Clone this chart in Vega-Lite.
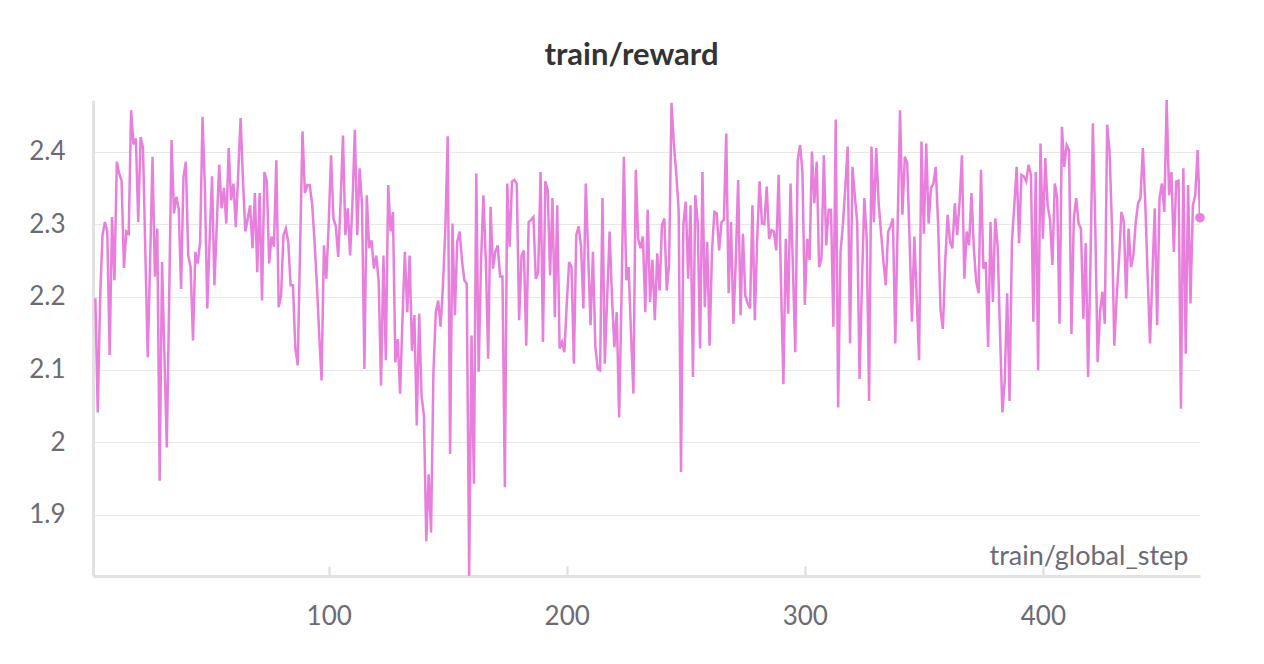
{
  "$schema": "https://vega.github.io/schema/vega-lite/v6.json",
  "width": 1107,
  "height": 476,
  "autosize": {"type": "none"},
  "padding": {"left": 93, "top": 100, "right": 64, "bottom": 88},
  "background": "white",
  "title": {"text": "train/reward", "font": "Lato", "fontSize": 31, "fontWeight": "bold", "color": "#333333", "offset": 28, "dx": -15},
  "data": {"values": [
{"step":2,"reward":2.198},{"step":3,"reward":2.041},{"step":4,"reward":2.2},{"step":5,"reward":2.285},{"step":6,"reward":2.303},{"step":7,"reward":2.29},{"step":8,"reward":2.12},{"step":9,"reward":2.31},{"step":10,"reward":2.223},
{"step":11,"reward":2.386},{"step":12,"reward":2.37},{"step":13,"reward":2.36},{"step":14,"reward":2.24},{"step":15,"reward":2.29},{"step":16,"reward":2.287},{"step":17,"reward":2.457},{"step":18,"reward":2.41},{"step":19,"reward":2.418},{"step":20,"reward":2.303},
{"step":21,"reward":2.42},{"step":22,"reward":2.405},{"step":23,"reward":2.26},{"step":24,"reward":2.117},{"step":25,"reward":2.25},{"step":26,"reward":2.393},{"step":27,"reward":2.228},{"step":28,"reward":2.294},{"step":29,"reward":1.947},{"step":30,"reward":2.248},
{"step":31,"reward":2.12},{"step":32,"reward":1.993},{"step":33,"reward":2.2},{"step":34,"reward":2.416},{"step":35,"reward":2.315},{"step":36,"reward":2.338},{"step":37,"reward":2.322},{"step":38,"reward":2.211},{"step":39,"reward":2.365},{"step":40,"reward":2.386},
{"step":41,"reward":2.257},{"step":42,"reward":2.241},{"step":43,"reward":2.14},{"step":44,"reward":2.262},{"step":45,"reward":2.246},{"step":46,"reward":2.276},{"step":47,"reward":2.448},{"step":48,"reward":2.35},{"step":49,"reward":2.184},{"step":50,"reward":2.28},
{"step":51,"reward":2.366},{"step":52,"reward":2.216},{"step":53,"reward":2.3},{"step":54,"reward":2.382},{"step":55,"reward":2.322},{"step":56,"reward":2.35},{"step":57,"reward":2.301},{"step":58,"reward":2.405},{"step":59,"reward":2.333},{"step":60,"reward":2.356},
{"step":61,"reward":2.296},{"step":62,"reward":2.37},{"step":63,"reward":2.446},{"step":64,"reward":2.36},{"step":65,"reward":2.29},{"step":66,"reward":2.308},{"step":67,"reward":2.326},{"step":68,"reward":2.267},{"step":69,"reward":2.343},{"step":70,"reward":2.234},
{"step":71,"reward":2.343},{"step":72,"reward":2.195},{"step":73,"reward":2.372},{"step":74,"reward":2.359},{"step":75,"reward":2.246},{"step":76,"reward":2.283},{"step":77,"reward":2.269},{"step":78,"reward":2.388},{"step":79,"reward":2.186},{"step":80,"reward":2.202},
{"step":81,"reward":2.285},{"step":82,"reward":2.294},{"step":83,"reward":2.276},{"step":84,"reward":2.216},{"step":85,"reward":2.216},{"step":86,"reward":2.129},{"step":87,"reward":2.106},{"step":88,"reward":2.27},{"step":89,"reward":2.428},{"step":90,"reward":2.343},
{"step":91,"reward":2.354},{"step":92,"reward":2.354},{"step":93,"reward":2.33},{"step":94,"reward":2.28},{"step":95,"reward":2.22},{"step":96,"reward":2.15},{"step":97,"reward":2.085},{"step":98,"reward":2.271},{"step":99,"reward":2.225},{"step":100,"reward":2.3},
{"step":101,"reward":2.395},{"step":102,"reward":2.308},{"step":103,"reward":2.297},{"step":104,"reward":2.255},{"step":105,"reward":2.33},{"step":106,"reward":2.422},{"step":107,"reward":2.285},{"step":108,"reward":2.322},{"step":109,"reward":2.257},{"step":110,"reward":2.33},
{"step":111,"reward":2.43},{"step":112,"reward":2.285},{"step":113,"reward":2.377},{"step":114,"reward":2.326},{"step":115,"reward":2.101},{"step":116,"reward":2.34},{"step":117,"reward":2.267},{"step":118,"reward":2.278},{"step":119,"reward":2.239},{"step":120,"reward":2.257},
{"step":121,"reward":2.221},{"step":122,"reward":2.078},{"step":123,"reward":2.257},{"step":124,"reward":2.113},{"step":125,"reward":2.354},{"step":126,"reward":2.29},{"step":127,"reward":2.317},{"step":128,"reward":2.11},{"step":129,"reward":2.142},{"step":130,"reward":2.067},
{"step":131,"reward":2.17},{"step":132,"reward":2.262},{"step":133,"reward":2.179},{"step":134,"reward":2.257},{"step":135,"reward":2.126},{"step":136,"reward":2.175},{"step":137,"reward":2.023},{"step":138,"reward":2.177},{"step":139,"reward":2.064},{"step":140,"reward":2.037},
{"step":141,"reward":1.864},{"step":142,"reward":1.956},{"step":143,"reward":1.876},{"step":144,"reward":2.097},{"step":145,"reward":2.179},{"step":146,"reward":2.195},{"step":147,"reward":2.159},{"step":148,"reward":2.216},{"step":149,"reward":2.294},{"step":150,"reward":2.421},
{"step":151,"reward":1.984},{"step":152,"reward":2.301},{"step":153,"reward":2.175},{"step":154,"reward":2.276},{"step":155,"reward":2.29},{"step":156,"reward":2.25},{"step":157,"reward":2.223},{"step":158,"reward":2.218},{"step":159,"reward":1.816},{"step":160,"reward":2.147},
{"step":161,"reward":1.943},{"step":162,"reward":2.37},{"step":163,"reward":2.097},{"step":164,"reward":2.25},{"step":165,"reward":2.34},{"step":166,"reward":2.25},{"step":167,"reward":2.115},{"step":168,"reward":2.324},{"step":169,"reward":2.239},{"step":170,"reward":2.262},
{"step":171,"reward":2.271},{"step":172,"reward":2.228},{"step":173,"reward":2.228},{"step":174,"reward":1.938},{"step":175,"reward":2.356},{"step":176,"reward":2.269},{"step":177,"reward":2.359},{"step":178,"reward":2.361},{"step":179,"reward":2.356},{"step":180,"reward":2.168},
{"step":181,"reward":2.257},{"step":182,"reward":2.264},{"step":183,"reward":2.133},{"step":184,"reward":2.303},{"step":185,"reward":2.306},{"step":186,"reward":2.31},{"step":187,"reward":2.225},{"step":188,"reward":2.234},{"step":189,"reward":2.372},{"step":190,"reward":2.138},
{"step":191,"reward":2.359},{"step":192,"reward":2.347},{"step":193,"reward":2.23},{"step":194,"reward":2.336},{"step":195,"reward":2.172},{"step":196,"reward":2.326},{"step":197,"reward":2.129},{"step":198,"reward":2.138},{"step":199,"reward":2.124},{"step":200,"reward":2.19},
{"step":201,"reward":2.248},{"step":202,"reward":2.241},{"step":203,"reward":2.108},{"step":204,"reward":2.285},{"step":205,"reward":2.297},{"step":206,"reward":2.27},{"step":207,"reward":2.184},{"step":208,"reward":2.356},{"step":209,"reward":2.257},{"step":210,"reward":2.161},
{"step":211,"reward":2.262},{"step":212,"reward":2.133},{"step":213,"reward":2.101},{"step":214,"reward":2.099},{"step":215,"reward":2.336},{"step":216,"reward":2.108},{"step":217,"reward":2.2},{"step":218,"reward":2.29},{"step":219,"reward":2.2},{"step":220,"reward":2.131},
{"step":221,"reward":2.179},{"step":222,"reward":2.034},{"step":223,"reward":2.2},{"step":224,"reward":2.393},{"step":225,"reward":2.223},{"step":226,"reward":2.241},{"step":227,"reward":2.15},{"step":228,"reward":2.067},{"step":229,"reward":2.375},{"step":230,"reward":2.28},
{"step":231,"reward":2.267},{"step":232,"reward":2.283},{"step":233,"reward":2.179},{"step":234,"reward":2.32},{"step":235,"reward":2.193},{"step":236,"reward":2.251},{"step":237,"reward":2.168},{"step":238,"reward":2.26},{"step":239,"reward":2.209},{"step":240,"reward":2.299},
{"step":241,"reward":2.308},{"step":242,"reward":2.209},{"step":243,"reward":2.246},{"step":244,"reward":2.467},{"step":245,"reward":2.41},{"step":246,"reward":2.37},{"step":247,"reward":2.32},{"step":248,"reward":1.959},{"step":249,"reward":2.301},{"step":250,"reward":2.331},
{"step":251,"reward":2.225},{"step":252,"reward":2.326},{"step":253,"reward":2.09},{"step":254,"reward":2.34},{"step":255,"reward":2.303},{"step":256,"reward":2.129},{"step":257,"reward":2.372},{"step":258,"reward":2.186},{"step":259,"reward":2.276},{"step":260,"reward":2.133},
{"step":261,"reward":2.262},{"step":262,"reward":2.317},{"step":263,"reward":2.315},{"step":264,"reward":2.264},{"step":265,"reward":2.303},{"step":266,"reward":2.306},{"step":267,"reward":2.425},{"step":268,"reward":2.205},{"step":269,"reward":2.303},{"step":270,"reward":2.163},
{"step":271,"reward":2.25},{"step":272,"reward":2.361},{"step":273,"reward":2.175},{"step":274,"reward":2.287},{"step":275,"reward":2.202},{"step":276,"reward":2.191},{"step":277,"reward":2.184},{"step":278,"reward":2.326},{"step":279,"reward":2.168},{"step":280,"reward":2.28},
{"step":281,"reward":2.359},{"step":282,"reward":2.301},{"step":283,"reward":2.3},{"step":284,"reward":2.352},{"step":285,"reward":2.28},{"step":286,"reward":2.292},{"step":287,"reward":2.29},{"step":288,"reward":2.264},{"step":289,"reward":2.368},{"step":290,"reward":2.22},
{"step":291,"reward":2.08},{"step":292,"reward":2.28},{"step":293,"reward":2.177},{"step":294,"reward":2.356},{"step":295,"reward":2.24},{"step":296,"reward":2.124},{"step":297,"reward":2.388},{"step":298,"reward":2.409},{"step":299,"reward":2.372},{"step":300,"reward":2.189},
{"step":301,"reward":2.28},{"step":302,"reward":2.251},{"step":303,"reward":2.4},{"step":304,"reward":2.329},{"step":305,"reward":2.386},{"step":306,"reward":2.241},{"step":307,"reward":2.253},{"step":308,"reward":2.395},{"step":309,"reward":2.271},{"step":310,"reward":2.32},
{"step":311,"reward":2.32},{"step":312,"reward":2.159},{"step":313,"reward":2.444},{"step":314,"reward":2.048},{"step":315,"reward":2.262},{"step":316,"reward":2.3},{"step":317,"reward":2.35},{"step":318,"reward":2.407},{"step":319,"reward":2.136},{"step":320,"reward":2.379},
{"step":321,"reward":2.34},{"step":322,"reward":2.303},{"step":323,"reward":2.087},{"step":324,"reward":2.22},{"step":325,"reward":2.336},{"step":326,"reward":2.28},{"step":327,"reward":2.057},{"step":328,"reward":2.407},{"step":329,"reward":2.303},{"step":330,"reward":2.405},
{"step":331,"reward":2.33},{"step":332,"reward":2.29},{"step":333,"reward":2.25},{"step":334,"reward":2.216},{"step":335,"reward":2.29},{"step":336,"reward":2.297},{"step":337,"reward":2.308},{"step":338,"reward":2.136},{"step":339,"reward":2.3},{"step":340,"reward":2.457},
{"step":341,"reward":2.313},{"step":342,"reward":2.393},{"step":343,"reward":2.384},{"step":344,"reward":2.28},{"step":345,"reward":2.166},{"step":346,"reward":2.283},{"step":347,"reward":2.2},{"step":348,"reward":2.113},{"step":349,"reward":2.414},{"step":350,"reward":2.287},
{"step":351,"reward":2.411},{"step":352,"reward":2.301},{"step":353,"reward":2.35},{"step":354,"reward":2.356},{"step":355,"reward":2.379},{"step":356,"reward":2.3},{"step":357,"reward":2.182},{"step":358,"reward":2.156},{"step":359,"reward":2.25},{"step":360,"reward":2.313},
{"step":361,"reward":2.276},{"step":362,"reward":2.267},{"step":363,"reward":2.329},{"step":364,"reward":2.285},{"step":365,"reward":2.33},{"step":366,"reward":2.395},{"step":367,"reward":2.225},{"step":368,"reward":2.29},{"step":369,"reward":2.271},{"step":370,"reward":2.343},
{"step":371,"reward":2.267},{"step":372,"reward":2.221},{"step":373,"reward":2.205},{"step":374,"reward":2.375},{"step":375,"reward":2.239},{"step":376,"reward":2.248},{"step":377,"reward":2.131},{"step":378,"reward":2.303},{"step":379,"reward":2.193},{"step":380,"reward":2.308},
{"step":381,"reward":2.27},{"step":382,"reward":2.15},{"step":383,"reward":2.041},{"step":384,"reward":2.087},{"step":385,"reward":2.205},{"step":386,"reward":2.057},{"step":387,"reward":2.276},{"step":388,"reward":2.326},{"step":389,"reward":2.379},{"step":390,"reward":2.274},
{"step":391,"reward":2.368},{"step":392,"reward":2.366},{"step":393,"reward":2.359},{"step":394,"reward":2.382},{"step":395,"reward":2.368},{"step":396,"reward":2.166},{"step":397,"reward":2.372},{"step":398,"reward":2.099},{"step":399,"reward":2.411},{"step":400,"reward":2.28},
{"step":401,"reward":2.391},{"step":402,"reward":2.326},{"step":403,"reward":2.306},{"step":404,"reward":2.244},{"step":405,"reward":2.356},{"step":406,"reward":2.336},{"step":407,"reward":2.163},{"step":408,"reward":2.434},{"step":409,"reward":2.379},{"step":410,"reward":2.409},
{"step":411,"reward":2.402},{"step":412,"reward":2.149},{"step":413,"reward":2.308},{"step":414,"reward":2.336},{"step":415,"reward":2.301},{"step":416,"reward":2.294},{"step":417,"reward":2.17},{"step":418,"reward":2.274},{"step":419,"reward":2.09},{"step":420,"reward":2.25},
{"step":421,"reward":2.439},{"step":422,"reward":2.3},{"step":423,"reward":2.11},{"step":424,"reward":2.179},{"step":425,"reward":2.207},{"step":426,"reward":2.163},{"step":427,"reward":2.437},{"step":428,"reward":2.4},{"step":429,"reward":2.3},{"step":430,"reward":2.133},
{"step":431,"reward":2.2},{"step":432,"reward":2.253},{"step":433,"reward":2.317},{"step":434,"reward":2.303},{"step":435,"reward":2.198},{"step":436,"reward":2.294},{"step":437,"reward":2.241},{"step":438,"reward":2.257},{"step":439,"reward":2.303},{"step":440,"reward":2.329},
{"step":441,"reward":2.336},{"step":442,"reward":2.405},{"step":443,"reward":2.33},{"step":444,"reward":2.23},{"step":445,"reward":2.136},{"step":446,"reward":2.23},{"step":447,"reward":2.322},{"step":448,"reward":2.161},{"step":449,"reward":2.336},{"step":450,"reward":2.356},
{"step":451,"reward":2.317},{"step":452,"reward":2.471},{"step":453,"reward":2.34},{"step":454,"reward":2.372},{"step":455,"reward":2.262},{"step":456,"reward":2.359},{"step":457,"reward":2.36},{"step":458,"reward":2.046},{"step":459,"reward":2.377},{"step":460,"reward":2.122},
{"step":461,"reward":2.354},{"step":462,"reward":2.191},{"step":463,"reward":2.326},{"step":464,"reward":2.34},{"step":465,"reward":2.402},{"step":466,"reward":2.309}
  ]},
  "encoding": {
    "x": {
      "field": "step", "type": "quantitative",
      "scale": {"domain": [1, 466], "nice": false, "zero": false},
      "axis": {
        "values": [100, 200, 300, 400],
        "grid": false,
        "tickSize": -10,
        "tickWidth": 2,
        "tickColor": "#dddddd",
        "labelPadding": 37,
        "title": "train/global_step",
        "titleAnchor": "end",
        "titleAlign": "right",
        "titleBaseline": "alphabetic",
        "titleX": 1095,
        "titleY": -12,
        "titleFontSize": 27,
        "titleFontWeight": "normal",
        "titleColor": "#6b6b76",
        "titleFont": "Lato"
      }
    },
    "y": {
      "field": "reward", "type": "quantitative",
      "scale": {"domain": [1.816, 2.471], "nice": false, "zero": false},
      "axis": {
        "values": [1.9, 2.0, 2.1, 2.2, 2.3, 2.4],
        "format": "~g",
        "ticks": false,
        "labelPadding": 28,
        "title": null,
        "grid": true,
        "gridColor": "#e8e8e8",
        "gridWidth": 1
      }
    }
  },
  "layer": [
    {"mark": {"type": "line", "color": "#e87fdc", "strokeWidth": 2.5, "clip": true}},
    {"transform": [{"filter": "datum.step == 466"}], "mark": {"type": "point", "filled": true, "size": 90, "color": "#e87fdc", "opacity": 1}}
  ],
  "config": {
    "view": {"stroke": null},
    "axis": {
      "domainColor": "#e2e2e2",
      "domainWidth": 3,
      "labelFont": "Lato",
      "labelFontSize": 26,
      "labelColor": "#6b6b76"
    }
  }
}
